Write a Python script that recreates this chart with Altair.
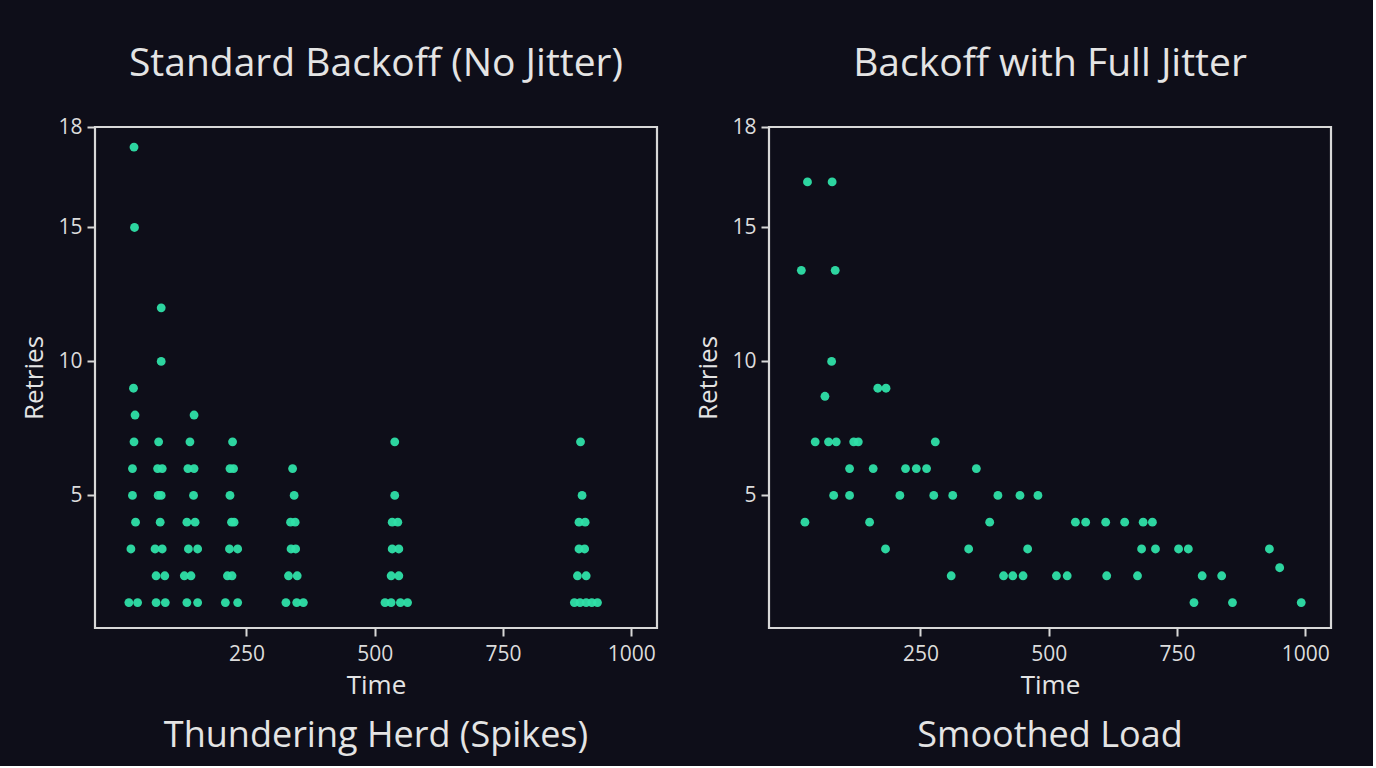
import altair as alt
import pandas as pd

# Retry times (ms) and retry counts, standard exponential backoff without jitter
std_time = [
    31, 32, 30, 33, 31, 28, 28, 34, 25, 21, 38,
    84, 84, 79, 77, 86, 78, 84, 82, 72, 86, 74, 91, 74, 92,
    148, 140, 136, 148, 147, 134, 150, 137, 155, 129, 142, 134, 155,
    223, 218, 225, 218, 221, 226, 217, 233, 213, 222, 209, 233,
    340, 343, 336, 345, 337, 346, 332, 349, 327, 348, 361,
    539, 539, 534, 545, 534, 547, 532, 547, 520, 532, 550, 564,
    901, 904, 898, 910, 898, 909, 895, 912, 889, 900, 912, 923, 934,
]
std_retries = [
    18, 15, 9, 8, 7, 6, 5, 4, 3, 1, 1,
    12, 10, 7, 6, 6, 5, 5, 4, 3, 3, 2, 2, 1, 1,
    8, 7, 6, 6, 5, 4, 4, 3, 3, 2, 2, 1, 1,
    7, 6, 6, 5, 4, 4, 3, 3, 2, 2, 1, 1,
    6, 5, 4, 4, 3, 3, 2, 2, 1, 1, 1,
    7, 5, 4, 4, 3, 3, 2, 2, 1, 1, 1, 1,
    7, 5, 4, 4, 3, 3, 2, 2, 1, 1, 1, 1, 1,
]

# Backoff with full jitter: retries spread out over time
jit_time = [
    30, 78, 18, 84, 77, 64, 167, 183,
    45, 71, 86, 120, 129, 279,
    112, 158, 221, 242, 262, 359,
    81, 112, 210, 276, 313, 401, 444, 479,
    25, 151, 385, 552, 572, 611, 648, 684, 702,
    182, 344, 459, 681, 708, 753, 772, 930,
    950,
    310, 412, 430, 450, 515, 536, 613, 673, 799, 837,
    783, 858, 992,
]
jit_retries = [
    16.7, 16.7, 13.4, 13.4, 10, 8.7, 9, 9,
    7, 7, 7, 7, 7, 7,
    6, 6, 6, 6, 6, 6,
    5, 5, 5, 5, 5, 5, 5, 5,
    4, 4, 4, 4, 4, 4, 4, 4, 4,
    3, 3, 3, 3, 3, 3, 3, 3,
    2.3,
    2, 2, 2, 2, 2, 2, 2, 2, 2, 2,
    1, 1, 1,
]

panel_titles = ["Standard Backoff (No Jitter)", "Backoff with Full Jitter"]
panel_captions = ["Thundering Herd (Spikes)", "Smoothed Load"]

BG = "#0e0e19"
FG = "#e4e4e4"
POINT = "#2fe0a8"
FONT = "Open Sans"
W, H = 562, 501


def panel(times, retries, title, caption):
    df = pd.DataFrame({"Time": times, "Retries": retries})
    pts = alt.Chart(df).mark_circle(size=78, color=POINT, opacity=0.95).encode(
        x=alt.X(
            "Time:Q",
            scale=alt.Scale(domain=[-45, 1050], nice=False, zero=False),
            axis=alt.Axis(values=[250, 500, 750, 1000], format="d", title="Time",
                          labelPadding=7, titlePadding=8),
        ),
        y=alt.Y(
            "Retries:Q",
            scale=alt.Scale(domain=[0.05, 18.75], nice=False, zero=False),
            axis=alt.Axis(
                values=[5, 10, 15, 18.75],
                labelExpr="datum.value > 18 ? '18' : datum.label",
                title="Retries",
            ),
        ),
    )
    cap = alt.Chart(pd.DataFrame({"caption": [caption]})).mark_text(
        font=FONT, fontSize=36, color=FG, baseline="middle", align="center"
    ).encode(
        text="caption:N",
        x=alt.value(W / 2),
        y=alt.value(H + 108),
    )
    return alt.layer(pts, cap).properties(
        width=W,
        height=H,
        title=alt.TitleParams(
            text=title, fontSize=39, font=FONT, color=FG, fontWeight="normal",
            anchor="middle", frame="group", offset=32,
        ),
    )


left = panel(std_time, std_retries, panel_titles[0], panel_captions[0])
right = panel(jit_time, jit_retries, panel_titles[1], panel_captions[1])

chart = (
    alt.hconcat(left, right, spacing=35)
    .properties(background=BG, padding={"left": 20, "top": 43, "right": 40, "bottom": 10})
    .configure_view(stroke="#d8d8d8", strokeWidth=2.2, fill=BG)
    .configure_axis(
        domain=False,
        grid=False,
        ticks=True,
        tickColor="#d8d8d8",
        tickWidth=2,
        tickSize=8,
        labelColor="#dcdcdc",
        labelFont=FONT,
        labelFontSize=21,
        labelPadding=5,
        labelFlush=False,
        titleColor=FG,
        titleFont=FONT,
        titleFontSize=26,
        titleFontWeight="normal",
        titlePadding=10,
    )
)

chart.save("out.html", embed_options={"renderer": "svg", "actions": False})
